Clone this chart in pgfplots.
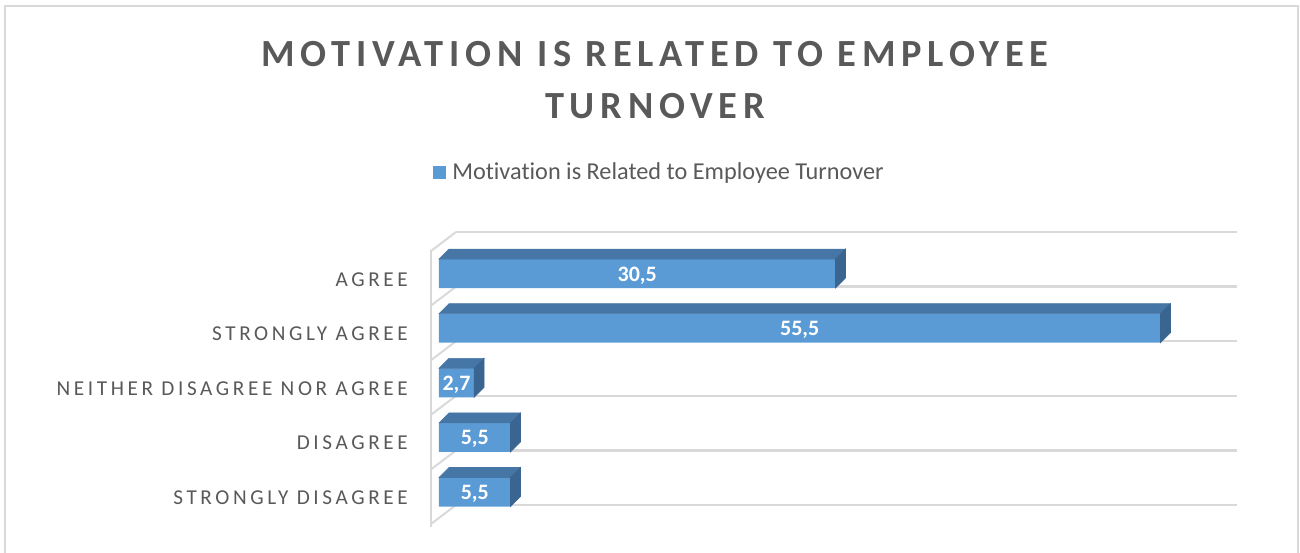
\documentclass[border=0pt]{standalone}
\usepackage{pgfplots}
\pgfplotsset{compat=1.18}
\usepackage{pgfplotstable}
\usepackage{fontspec}
\setmainfont{Carlito}[Ligatures=NoCommon]
\newfontfamily\titlefam{Carlito}[LetterSpace=15,Ligatures=NoCommon]
\newfontfamily\labfam{Carlito}[LetterSpace=17,Ligatures=NoCommon]
\definecolor{barfront}{HTML}{5B9BD5}
\definecolor{bartop}{HTML}{4676A5}
\definecolor{barside}{HTML}{3B6591}
\definecolor{gridc}{HTML}{D9D9D9}
\definecolor{txt}{HTML}{595959}

\pgfplotstableread{
k v lab
0 5.5 5,5
1 5.5 5,5
2 2.7 2,7
3 55.5 55,5
4 30.5 30,5
}\datatable

\begin{document}
\begin{tikzpicture}
\begin{scope}[x=0.75pt,y=-0.75pt]
\useasboundingbox (0,0) rectangle (1300,553);
\draw[gridc, line width=0.9pt] (5,570) -- (5,6) -- (1298,6) -- (1298,570);
\node[anchor=base, inner sep=0pt, text=txt, font=\titlefam\fontsize{28.8pt}{30pt}\selectfont\bfseries] at (655,66) {MOTIVATION IS RELATED TO EMPLOYEE};
\node[anchor=base, inner sep=0pt, text=txt, font=\titlefam\fontsize{28.8pt}{30pt}\selectfont\bfseries] at (655,118) {TURNOVER};
\fill[barfront] (433,166) rectangle (446,179);
\node[anchor=base west, inner sep=0pt, text=txt, font=\fontsize{18.2pt}{20pt}\selectfont] at (452,179) {Motivation is Related to Employee Turnover};
\end{scope}
\begin{axis}[
  at={(329.25pt,-389.475pt)}, anchor=south west,
  scale only axis, width=585pt, height=204.75pt,
  xmin=0, xmax=60, ymin=-0.5, ymax=4.5,
  clip=false,
  axis line style={draw=none},
  xtick=\empty,
  ytick={0,1,2,3,4},
  yticklabels={STRONGLY DISAGREE, DISAGREE, NEITHER DISAGREE NOR AGREE, STRONGLY AGREE, AGREE},
  major tick length=0pt,
  yticklabel style={font=\labfam\fontsize{15.9pt}{18pt}\selectfont, text=txt, anchor=base east, inner sep=0pt, xshift=-23.25pt, yshift=-9.375pt},
]
% back grid lines and left wall
\pgfplotsinvokeforeach{0,...,5}{
  \draw[gridc, line width=1.9pt] (axis cs:1.31,#1-0.238) -- (axis cs:61.38,#1-0.238);
  \draw[gridc, line width=1.5pt] (axis cs:-0.615,#1-0.238-0.348) -- (axis cs:1.31,#1-0.238);
}
\draw[gridc, line width=1.9pt] (axis cs:-0.615,-0.641) -- (axis cs:-0.615,4.432);
% 3D top and side faces
\addplot[scatter, only marks, mark=*, mark size=0pt, mark options={draw=none,fill=none},
  visualization depends on={\thisrow{v} \as \val},
  scatter/@pre marker code/.code={%
    \pgfmathsetmacro\L{\val*9.75}%
    \pgfmathsetmacro\Lb{\val*9.75-7.5}%
    \fill[bartop] (-\L pt,10.875pt) -- (0pt,10.875pt) -- (7.5pt,18.375pt) -- (-\Lb pt,18.375pt) -- cycle;
    \fill[barside] (0pt,-10.875pt) -- (7.5pt,-3.375pt) -- (7.5pt,18.375pt) -- (0pt,10.875pt) -- cycle;
  },
  scatter/@post marker code/.code={},
] table[x=v, y=k] {\datatable};
% front faces with value labels
\addplot[xbar, bar width=21.75pt, fill=barfront, draw=none,
  nodes near coords, point meta=explicit symbolic,
  visualization depends on={\thisrow{v} \as \val},
  every node near coord/.style={anchor=base, inner sep=0pt, xshift=-\val*4.875pt, yshift=-5.625pt, text=white, font=\fontsize{16.5pt}{18pt}\selectfont\bfseries},
] table[x=v, y=k, meta=lab] {\datatable};
\end{axis}
\end{tikzpicture}
\end{document}
